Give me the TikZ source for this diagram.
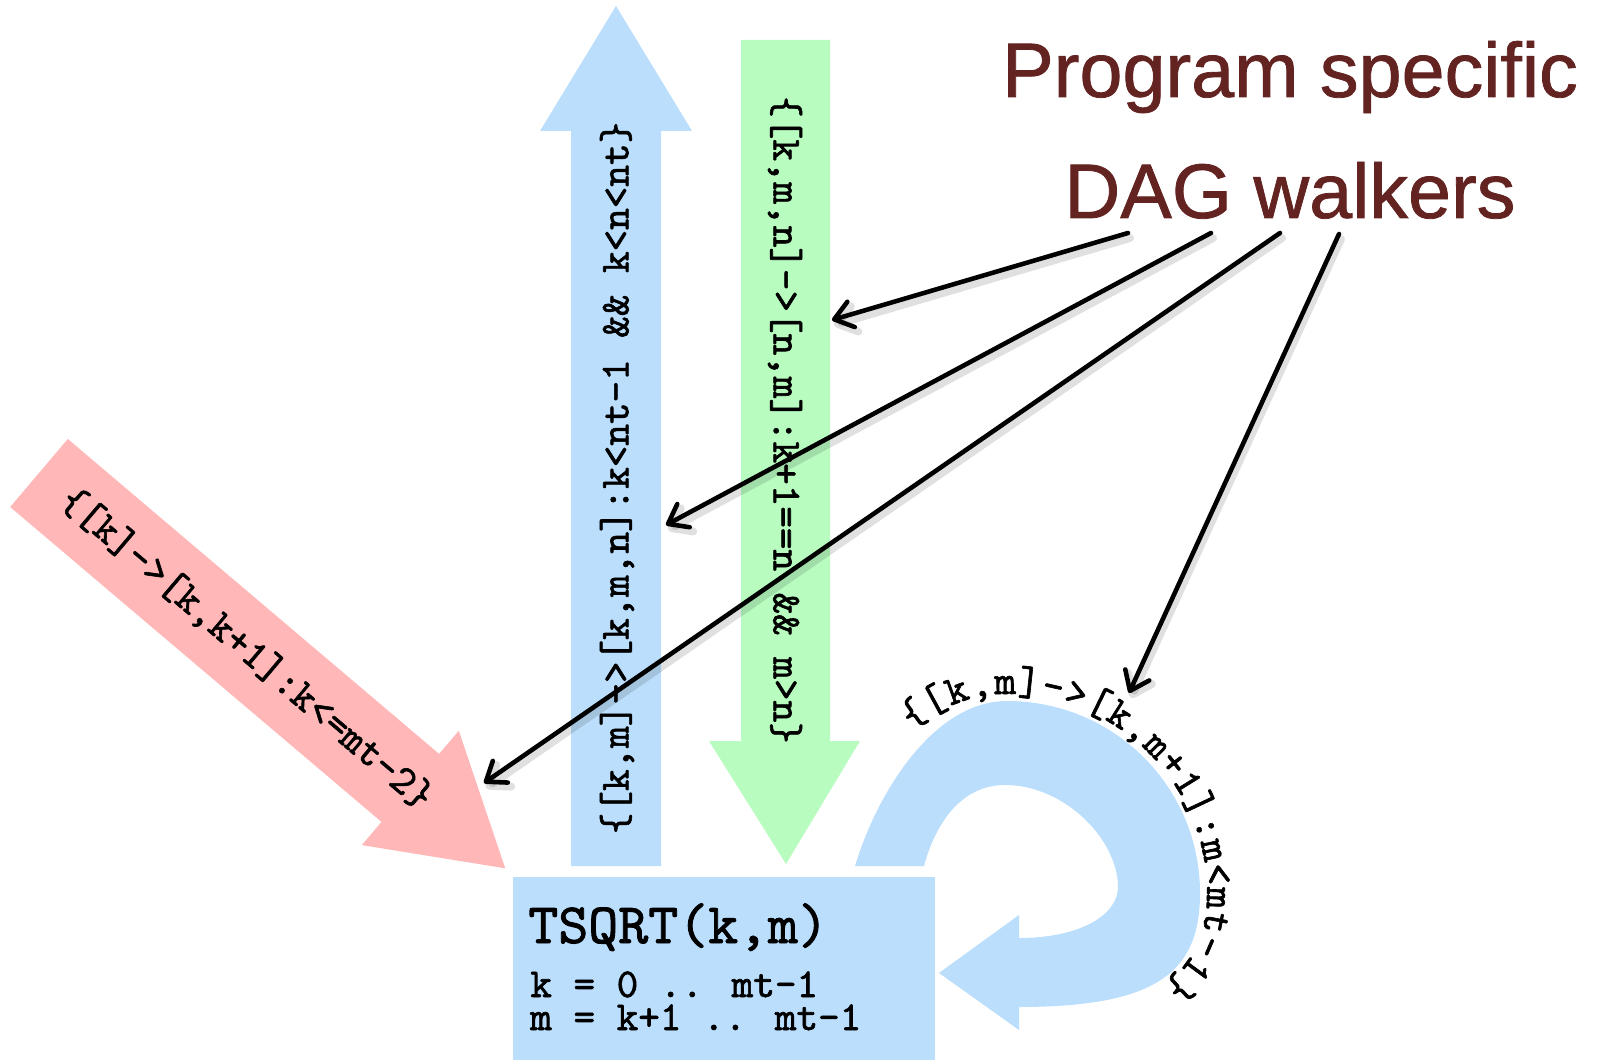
\documentclass[tikz,border=0pt]{standalone}
\usepackage{fontspec}
\setmainfont{Liberation Sans}[FakeBold=1]
\newfontfamily\codefont{lmmono10-regular.otf}[FakeBold=1.5]
\usetikzlibrary{arrows.meta,decorations.text}

\definecolor{flowblue}{RGB}{186,222,252}
\definecolor{flowgreen}{RGB}{184,252,192}
\definecolor{flowred}{RGB}{255,183,183}
\definecolor{titlered}{RGB}{99,35,33}

\tikzset{
  code/.style={font=\codefont\fontsize{23.4}{27}\selectfont, inner sep=0pt},
  bigcode/.style={font=\codefont\fontsize{32.5}{36}\selectfont, inner sep=0pt},
  titletext/.style={font=\fontsize{44}{50}\selectfont, text=titlered, inner sep=0pt},
  walker/.style={line width=2.6pt, line cap=round,
    -{Straight Barb[length=10pt,width=15pt,line cap=round,line join=round]}},
  walkershadow/.style={line width=4.5pt, line cap=round, black, opacity=0.12,
    -{Straight Barb[length=10pt,width=15pt,line cap=round,line join=round]}}
}

\begin{document}
\begin{tikzpicture}[x=0.02cm,y=-0.02cm]
\useasboundingbox (0,0) rectangle (1608,1060);

% diagonal flow from the left
\fill[flowred] (10.2,507) -- (67.8,439) -- (439.1,753.9) -- (458.8,730.7)
  -- (505.2,868.3) -- (361.8,845.1) -- (381.5,821.9) -- cycle;
\node[code, rotate=-40.3] (redlbl) at (246.5,649) {\{[k]->[k,k+1]:k<=mt-2\}};

% upward flow
\fill[flowblue] (571,866) -- (661,866) -- (661,131) -- (692,131) -- (616,6)
  -- (540,131) -- (571,131) -- cycle;
\node[code, rotate=90] (bluelbl) at (617,478) {\{[k,m]->[k,m,n]:k<nt-1 \&\& k<n<nt\}};

% downward flow
\fill[flowgreen] (741,40) -- (830,40) -- (830,741) -- (860,741) -- (786,864)
  -- (709,741) -- (741,741) -- cycle;
\node[code, rotate=-90] (greenlbl) at (785,420) {\{[k,m,n]->[n,m]:k+1==n \&\& m>n\}};

% task box
\fill[flowblue] (513,877) rectangle (935,1060);
\node[bigcode, anchor=base west] (task) at (528,943) {TSQRT(k,m)};
\node[code, anchor=base west] (krange) at (530,997) {k = 0 .. mt-1};
\node[code, anchor=base west] (mrange) at (530,1030) {m = k+1 .. mt-1};

% self loop
\fill[flowblue] (855,866) .. controls (878,790) and (935,701) .. (1007,701)
  .. controls (1114,701) and (1200,787) .. (1200,893)
  .. controls (1200,970) and (1160,1007) .. (1019,1007)
  -- (1019,1030) -- (939,973) -- (1019,915) -- (1019,938)
  .. controls (1080,938) and (1118,915) .. (1118,887)
  .. controls (1118,840) and (1065,785) .. (1005,785)
  .. controls (960,785) and (935,825) .. (924,866) -- cycle;
\path[decorate, decoration={text along path, text align=fit to path,
    text={|\codefont\fontsize{23.4}{27}\selectfont|{\{}[k,m]->[k,m+1]:m<mt-1{\}}}}]
  (912,730) .. controls (940,708) and (970,694) .. (1007,694)
  .. controls (1118,694) and (1207,785) .. (1207,893)
  .. controls (1207,935) and (1192,963) .. (1163,986);

% title
\node[titletext, anchor=base] (title1) at (1290,97) {Program specific};
\node[titletext, anchor=base] (title2) at (1290,218) {DAG walkers};

% walker pointers
\coordinate (w1s) at (1128,233);
\coordinate (w2s) at (1211,233);
\coordinate (w3s) at (1280,233);
\coordinate (w4s) at (1339,234);
\coordinate (w1e) at (832,320);
\coordinate (w2e) at (666,525);
\coordinate (w3e) at (484,783);
\coordinate (w4e) at (1129,693);

\foreach \i in {1,2,3,4}{
  \draw[walkershadow] ([shift={(2,5)}]w\i s) -- ([shift={(2,5)}]w\i e);
}
\foreach \i in {1,2,3,4}{
  \draw[walker] (w\i s) -- (w\i e);
}
\end{tikzpicture}
\end{document}
